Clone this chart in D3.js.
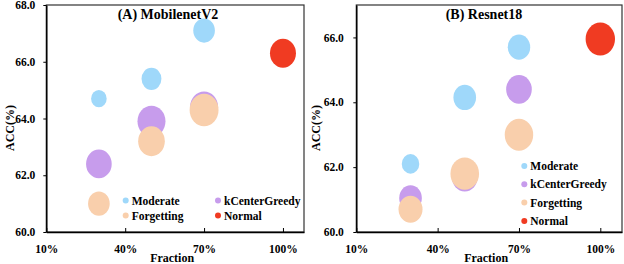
<!DOCTYPE html>
<html>
<head>
<meta charset="utf-8">
<script src="https://cdn.jsdelivr.net/npm/d3@7"></script>
<style>
  body { margin: 0; background: #fff; }
  .axis path, .axis line { stroke: #000; }
  .axis .domain { stroke-width: 1.5px; }
</style>
</head>
<body>
<svg width="624" height="264"></svg>
<script>
var methods = ["Moderate", "kCenterGreedy", "Forgetting", "Normal"];
var fractions = [30, 50, 70];
var normalFraction = [100];
var fractionTicks = [10, 40, 70, 100];

// (A) MobilenetV2 - accuracy and bubble size
var mbModerate = [64.7, 65.4, 67.1],
    mbKcg = [62.4, 63.9, 64.4],
    mbForget = [61.0, 63.2, 64.3],
    mbNormal = [66.3];
var mbModerateSize = [27, 44, 52],
    mbKcgSize = [73, 87, 87],
    mbForgetSize = [52, 79, 93],
    mbNormalSize = [75];
var mbTicks = [60, 62, 64, 66, 68];

// (B) Resnet18
var rnModerate = [62.1, 64.15, 65.7],
    rnKcg = [61.05, 61.7, 64.4],
    rnForget = [60.7, 61.8, 63.0],
    rnNormal = [65.95];
var rnModerateSize = [34, 57, 56],
    rnKcgSize = [57, 75, 73],
    rnForgetSize = [64, 91, 90],
    rnNormalSize = [96];
var rnTicks = [60, 62, 64, 66];

var colors = {
  "Moderate": "#9fd8fa",
  "kCenterGreedy": "#c79cec",
  "Forgetting": "#f9cfac",
  "Normal": "#f03b22"
};

var FONT = "'Liberation Serif', 'Times New Roman', serif";

var svg = d3.select("svg");
var r = d3.scaleSqrt().domain([0, 100]).range([0, 15]);

function series(method, xs, ys, sizes) {
  return xs.map(function(f, i) { return {method: method, f: f, acc: ys[i], size: sizes[i]}; });
}

function panel(opt) {
  var x = d3.scaleLinear().domain([10, 108]).range([opt.left, opt.right]),
      y = d3.scaleLinear().domain(opt.yDomain).range([232, 5]);

  var g = svg.append("g");

  g.append("rect")
      .attr("x", opt.left)
      .attr("y", 5)
      .attr("width", opt.right - opt.left)
      .attr("height", 227)
      .attr("fill", "none")
      .attr("stroke", "#333")
      .attr("stroke-width", 1.2);

  g.selectAll("ellipse")
    .data(opt.data)
    .enter().append("ellipse")
      .attr("cx", function(d) { return x(d.f); })
      .attr("cy", function(d) { return y(d.acc); })
      .attr("rx", function(d) { return r(d.size); })
      .attr("ry", function(d) { return r(d.size) * 1.12; })
      .attr("fill", function(d) { return colors[d.method]; });

  g.append("g")
      .attr("class", "axis")
      .attr("transform", "translate(0,232)")
      .call(d3.axisBottom(x).tickValues(fractionTicks)
        .tickFormat(function(d) { return d + "%"; })
        .tickSizeInner(-4).tickSizeOuter(0).tickPadding(13));

  g.append("g")
      .attr("class", "axis")
      .attr("transform", "translate(" + opt.left + ",0)")
      .call(d3.axisLeft(y).tickValues(opt.ticks)
        .tickFormat(d3.format(".1f"))
        .tickSizeInner(3).tickSizeOuter(0).tickPadding(opt.pad));

  g.selectAll(".axis text")
      .attr("fill", "#000")
      .style("font-size", "11.5px");

  g.append("text")
      .attr("x", opt.titleX)
      .attr("y", 19)
      .attr("text-anchor", "middle")
      .style("font-size", "14px")
      .text(opt.title);

  g.append("text")
      .attr("x", (opt.left + opt.right) / 2 - 3)
      .attr("y", 262)
      .attr("text-anchor", "middle")
      .style("font-size", "12px")
      .text("Fraction");

  g.append("text")
      .attr("transform", "translate(" + opt.yLabelX + ",128) rotate(-90)")
      .attr("text-anchor", "middle")
      .style("font-size", "12px")
      .text("ACC(%)");

  var leg = g.selectAll(".legend")
    .data(opt.legend)
    .enter().append("g")
      .attr("class", "legend")
      .attr("transform", function(d) { return "translate(" + d.x + "," + d.y + ")"; });

  leg.append("circle")
      .attr("r", 3)
      .attr("fill", function(d) { return colors[d.method]; });

  leg.append("text")
      .attr("x", 6)
      .attr("dy", "0.35em")
      .style("font-size", "11.5px")
      .text(function(d) { return d.method; });

  g.selectAll("text")
      .style("font-family", FONT)
      .style("font-weight", "bold");
}

var mbData = [].concat(
  series("Moderate", fractions, mbModerate, mbModerateSize),
  series("kCenterGreedy", fractions, mbKcg, mbKcgSize),
  series("Forgetting", fractions, mbForget, mbForgetSize),
  series("Normal", normalFraction, mbNormal, mbNormalSize));

var rnData = [].concat(
  series("Moderate", fractions, rnModerate, rnModerateSize),
  series("kCenterGreedy", fractions, rnKcg, rnKcgSize),
  series("Forgetting", fractions, rnForget, rnForgetSize),
  series("Normal", normalFraction, rnNormal, rnNormalSize));

panel({
  left: 46.3, right: 304, yDomain: [60, 68], ticks: mbTicks, pad: 8,
  title: "(A) MobilenetV2", titleX: 168, yLabelX: 14, data: mbData,
  legend: [
    {method: methods[0], x: 125.7, y: 200.5},
    {method: methods[1], x: 218, y: 200.5},
    {method: methods[2], x: 125.7, y: 215.5},
    {method: methods[3], x: 218, y: 215.5}
  ]
});

panel({
  left: 356.3, right: 622, yDomain: [60, 67], ticks: rnTicks, pad: 9.5,
  title: "(B) Resnet18", titleX: 484, yLabelX: 320, data: rnData,
  legend: methods.map(function(m, i) { return {method: m, x: 524.3, y: 166 + i * 18.3}; })
});
</script>
</body>
</html>
